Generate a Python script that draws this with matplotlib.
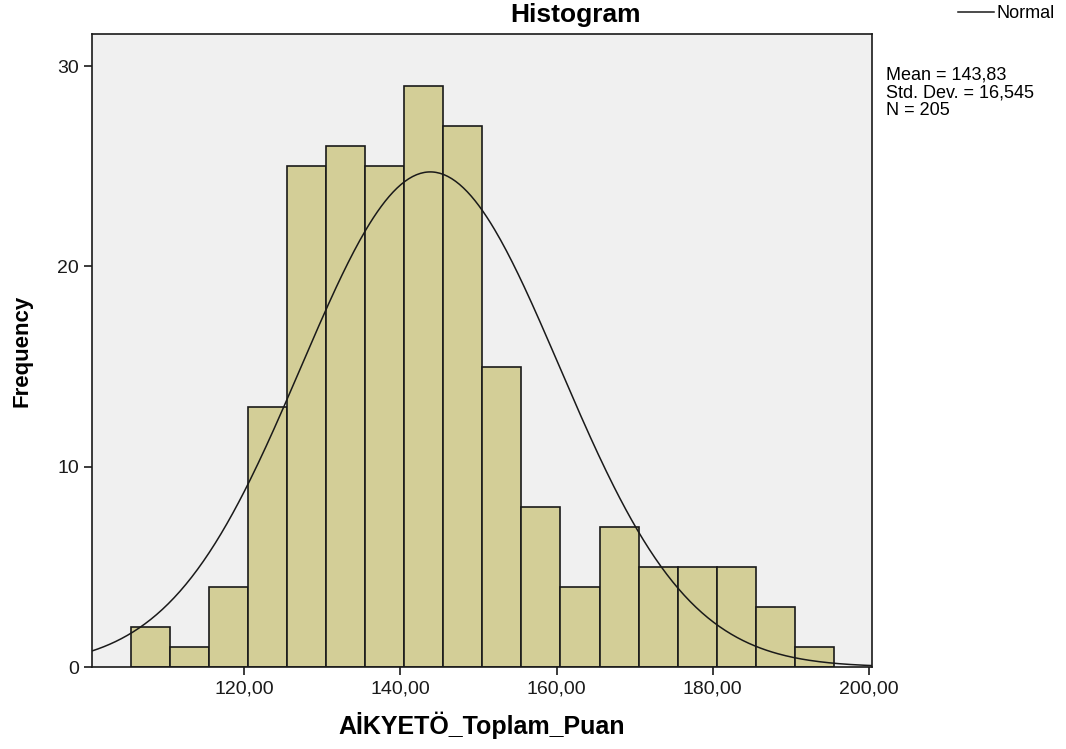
import numpy as np
import matplotlib.pyplot as plt
from matplotlib.lines import Line2D

plt.rcParams['font.family'] = ['Liberation Sans', 'DejaVu Sans']

# histogram bins (edges) and counts
bin_edges = [105.5, 110.5, 115.5, 120.5, 125.5, 130.5, 135.5, 140.5, 145.5,
             150.5, 155.5, 160.5, 165.5, 170.5, 175.5, 180.5, 185.5, 190.5, 195.5]
counts = [2, 1, 4, 13, 25, 26, 25, 29, 27, 15, 8, 4, 7, 5, 5, 5, 3, 1]

# summary stats shown in the legend
mean_val = 143.83
std_val = 16.545
n_val = 205

x_ticks = [120, 140, 160, 180, 200]
y_ticks = [0, 10, 20, 30]

W, H = 1066, 749
fig = plt.figure(figsize=(W / 100, H / 100), dpi=100)
ax = fig.add_axes([92 / W, 1 - 667 / H, (872 - 92) / W, (667 - 34) / H])
ax.set_facecolor('#F0F0F0')

widths = np.diff(bin_edges)
ax.bar(bin_edges[:-1], counts, width=widths, align='edge',
       color='#D3CE97', edgecolor='#1a1a1a', linewidth=1.2, zorder=2)

# normal curve scaled to counts
xlim = (100.5, 200.4)
bw = widths[0]
xs = np.linspace(xlim[0], xlim[1], 400)
ys = n_val * bw / (std_val * np.sqrt(2 * np.pi)) * np.exp(-0.5 * ((xs - mean_val) / std_val) ** 2)
ax.plot(xs, ys, color='#1a1a1a', lw=1.1, zorder=3)

ax.set_xlim(*xlim)
ax.set_ylim(0, 31.6)
ax.set_xticks(x_ticks)
ax.set_xticklabels([f"{v:.2f}".replace('.', ',') for v in x_ticks])
ax.set_yticks(y_ticks)
ax.tick_params(axis='both', direction='out', length=6, width=1.2, labelsize=14, colors='#1a1a1a')
for s in ax.spines.values():
    s.set_linewidth(1.2)
    s.set_color('#1a1a1a')

fig.text(576 / W, 1 - 15 / H, "Histogram", fontsize=19, fontweight='bold', ha='center', va='center')
ax.set_xlabel("AİKYETÖ_Toplam_Puan", fontsize=18, fontweight='bold', labelpad=10)
fig.text(22 / W, 1 - 351 / H, "Frequency", fontsize=16, fontweight='bold',
         rotation=90, ha='center', va='center')

# legend outside, top right
leg_line = Line2D([958 / W, 994 / W], [1 - 12 / H, 1 - 12 / H],
                  transform=fig.transFigure, color='#1a1a1a', lw=1.1)
fig.add_artist(leg_line)
fig.text(996 / W, 1 - 13 / H, "Normal", fontsize=13, va='center', ha='left')

stats = (f"Mean = {mean_val:.2f}".replace('.', ',') + "\n"
         + "Std. Dev. = " + f"{std_val:.3f}".replace('.', ',') + "\n"
         + f"N = {n_val}")
fig.text(886 / W, 1 - 67 / H, stats, fontsize=13, va='top', ha='left', linespacing=1.05)

fig.savefig("out.png", dpi=100)
